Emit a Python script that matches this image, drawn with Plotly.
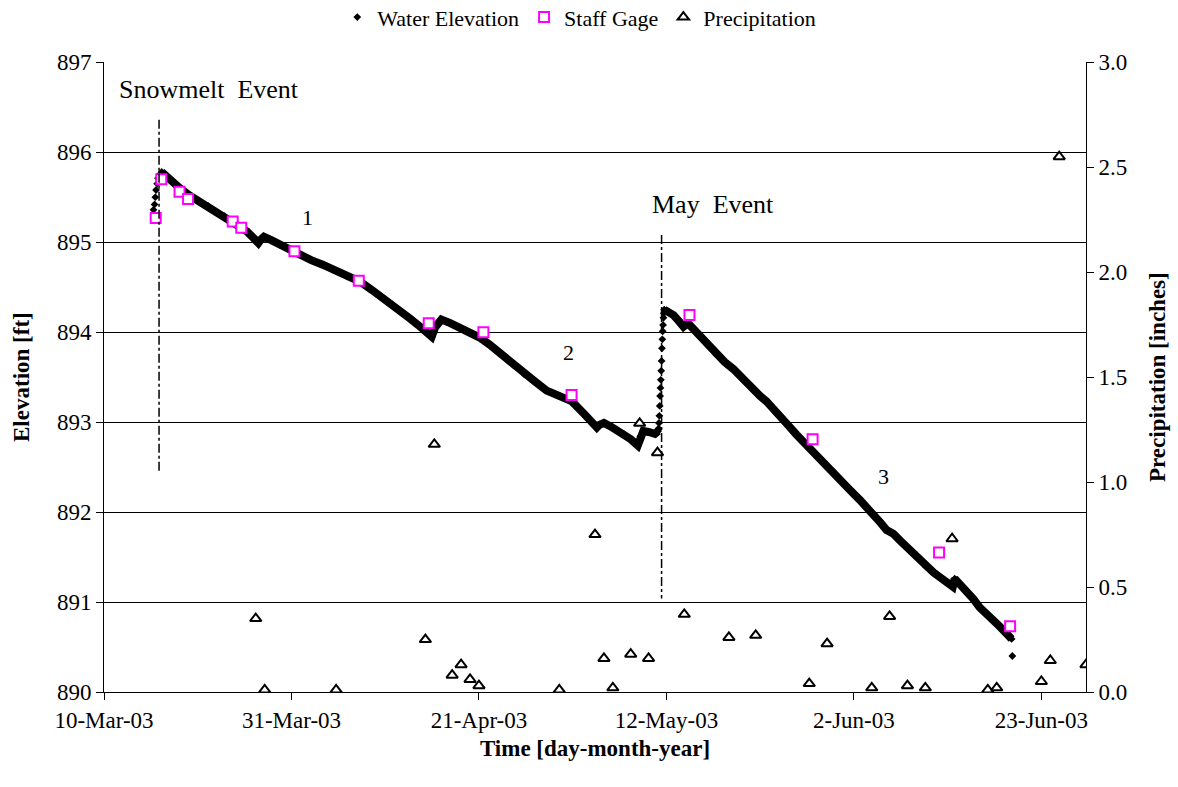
import plotly.graph_objects as go

# ---- Water elevation (ft) ----
# rising limb of the snowmelt event
snow_rise_time = ["2003-03-15 13:00", "2003-03-15 16:00", "2003-03-15 18:00", "2003-03-15 20:00",
                  "2003-03-15 23:00", "2003-03-16 01:00", "2003-03-16 05:00"]
snow_rise_ft = [895.36, 895.42, 895.50, 895.58, 895.65, 895.71, 895.75]

# recession after the snowmelt event
rec1_time = ["2003-03-16 11:00", "2003-03-17 12:00", "2003-03-18 12:00", "2003-03-19 14:00",
             "2003-03-20 18:00", "2003-03-21 17:00", "2003-03-22 14:00", "2003-03-23 12:00",
             "2003-03-24 12:00", "2003-03-25 05:00", "2003-03-26 00:00", "2003-03-26 17:00",
             "2003-03-27 07:00", "2003-03-27 14:00", "2003-03-27 22:00", "2003-03-28 19:00",
             "2003-03-29 17:00", "2003-03-30 19:00", "2003-03-31 23:00", "2003-04-02 05:00",
             "2003-04-03 12:00", "2003-04-04 17:00", "2003-04-06 05:00", "2003-04-07 17:00",
             "2003-04-09 00:00", "2003-04-10 07:00", "2003-04-11 05:00", "2003-04-12 04:00",
             "2003-04-13 07:00", "2003-04-14 10:00", "2003-04-15 02:00", "2003-04-15 17:00",
             "2003-04-16 02:00", "2003-04-16 12:00", "2003-04-16 19:00", "2003-04-17 19:00",
             "2003-04-18 22:00", "2003-04-20 00:00", "2003-04-21 02:00", "2003-04-22 05:00",
             "2003-04-23 12:00", "2003-04-24 19:00", "2003-04-26 02:00", "2003-04-27 07:00",
             "2003-04-28 14:00", "2003-04-30 00:00", "2003-05-01 10:00", "2003-05-02 19:00",
             "2003-05-04 05:00", "2003-05-04 12:00", "2003-05-05 00:00", "2003-05-05 19:00",
             "2003-05-06 12:00", "2003-05-07 05:00", "2003-05-08 00:00", "2003-05-08 19:00",
             "2003-05-09 02:00", "2003-05-09 10:00", "2003-05-10 00:00", "2003-05-10 17:00",
             "2003-05-11 02:00"]
rec1_ft = [895.78, 895.68, 895.60, 895.52,
           895.45, 895.40, 895.34, 895.29,
           895.23, 895.17, 895.12, 895.05,
           894.99, 895.03, 895.06, 895.02,
           894.97, 894.92, 894.86, 894.80,
           894.75, 894.69, 894.62, 894.56,
           894.47, 894.38, 894.30, 894.23,
           894.15, 894.06, 894.00, 893.95,
           894.05, 894.12, 894.14, 894.10,
           894.05, 893.99, 893.94, 893.86,
           893.75, 893.64, 893.53, 893.45,
           893.35, 893.29, 893.23, 893.09,
           892.94, 892.97, 892.99, 892.95,
           892.91, 892.87, 892.81, 892.74,
           892.84, 892.90, 892.89, 892.87,
           892.90]

# rising limb of the May event
may_rise_time = ["2003-05-11 03:00", "2003-05-11 04:00", "2003-05-11 05:00", "2003-05-11 06:00",
                 "2003-05-11 07:00", "2003-05-11 08:00", "2003-05-11 09:00", "2003-05-11 10:00",
                 "2003-05-11 11:00", "2003-05-11 12:00", "2003-05-11 13:00", "2003-05-11 14:00",
                 "2003-05-11 15:00", "2003-05-11 16:00", "2003-05-11 17:00"]
may_rise_ft = [892.93, 892.99, 893.07, 893.18,
               893.29, 893.38, 893.47, 893.57,
               893.68, 893.82, 893.92, 894.01,
               894.08, 894.16, 894.21]

# recession after the May event
rec2_time = ["2003-05-11 18:00", "2003-05-12 07:00", "2003-05-12 19:00", "2003-05-13 10:00",
             "2003-05-13 22:00", "2003-05-14 10:00", "2003-05-15 00:00", "2003-05-15 17:00",
             "2003-05-16 14:00", "2003-05-17 14:00", "2003-05-18 12:00", "2003-05-19 12:00",
             "2003-05-20 14:00", "2003-05-21 17:00", "2003-05-22 12:00", "2003-05-23 05:00",
             "2003-05-24 07:00", "2003-05-25 12:00", "2003-05-26 14:00", "2003-05-27 17:00",
             "2003-05-28 19:00", "2003-05-29 22:00", "2003-05-30 17:00", "2003-05-31 10:00",
             "2003-06-01 12:00", "2003-06-02 17:00", "2003-06-03 12:00", "2003-06-04 05:00",
             "2003-06-05 00:00", "2003-06-05 16:00", "2003-06-06 10:00", "2003-06-07 05:00",
             "2003-06-07 22:00", "2003-06-09 00:00", "2003-06-10 02:00", "2003-06-10 22:00",
             "2003-06-11 14:00", "2003-06-12 10:00", "2003-06-13 02:00", "2003-06-13 07:00",
             "2003-06-13 22:00", "2003-06-14 14:00", "2003-06-15 10:00", "2003-06-16 02:00",
             "2003-06-16 22:00", "2003-06-17 14:00", "2003-06-18 05:00", "2003-06-18 17:00",
             "2003-06-19 05:00", "2003-06-19 16:00"]
rec2_ft = [894.25, 894.22, 894.19, 894.12,
           894.06, 894.10, 894.04, 893.97,
           893.86, 893.75, 893.67, 893.59,
           893.47, 893.36, 893.29, 893.23,
           893.10, 892.98, 892.86, 892.75,
           892.64, 892.53, 892.45, 892.37,
           892.25, 892.13, 892.05, 891.98,
           891.88, 891.80, 891.76, 891.68,
           891.61, 891.50, 891.39, 891.33,
           891.28, 891.22, 891.17, 891.26,
           891.20, 891.13, 891.03, 890.94,
           890.87, 890.80, 890.74, 890.69,
           890.64, 890.59]

# final logger reading
last_time = ["2003-06-19 18:00"]
last_ft = [890.40]

# ---- Staff gage readings (ft) ----
gage_time = ["2003-03-15 19:00", "2003-03-16 10:00", "2003-03-18 11:00", "2003-03-19 10:00",
             "2003-03-24 10:00", "2003-03-25 09:00", "2003-03-31 08:00", "2003-04-07 13:00",
             "2003-04-15 09:00", "2003-04-21 12:00", "2003-05-01 09:00", "2003-05-14 14:00",
             "2003-05-28 09:00", "2003-06-11 13:00", "2003-06-19 12:00"]
gage_ft = [895.27, 895.70, 895.56, 895.48,
           895.23, 895.16, 894.90, 894.57,
           894.10, 894.00, 893.30, 894.19,
           892.81, 891.55, 890.73]

# ---- Daily precipitation (inches) ----
precip_date = ["2003-03-27", "2003-03-28", "2003-04-05", "2003-04-15", "2003-04-16",
               "2003-04-18", "2003-04-19", "2003-04-20", "2003-04-21", "2003-04-30",
               "2003-05-04", "2003-05-05", "2003-05-06", "2003-05-08", "2003-05-09",
               "2003-05-10", "2003-05-11", "2003-05-14", "2003-05-19", "2003-05-22",
               "2003-05-28", "2003-05-30", "2003-06-04", "2003-06-06", "2003-06-08",
               "2003-06-10", "2003-06-13", "2003-06-17", "2003-06-18", "2003-06-23",
               "2003-06-24", "2003-06-25", "2003-06-28"]
precip_in = [0.35, 0.01, 0.01, 0.25, 1.18,
             0.08, 0.13, 0.06, 0.03, 0.01,
             0.75, 0.16, 0.02, 0.18, 1.28,
             0.16, 1.14, 0.37, 0.26, 0.27,
             0.04, 0.23, 0.02, 0.36, 0.03,
             0.02, 0.73, 0.01, 0.02, 0.05,
             0.15, 2.55, 0.13]

# ---- Event markers and labels ----
event_time = ["2003-03-16 04:00", "2003-05-11 11:00"]
event_top = [896.36, 895.08]
event_bottom = [892.45, 891.04]

label_text = ["Snowmelt  Event", "May  Event", "1", "2", "3"]
label_time = ["2003-03-11 12:00", "2003-05-10 03:00", "2003-04-01 20:00", "2003-05-01 02:00", "2003-06-05 08:00"]
label_ft = [896.70, 895.42, 895.27, 893.77, 892.39]
label_anchor = ["left", "left", "center", "center", "center"]
label_size = [26, 26, 22, 22, 22]

FONT = "Liberation Serif, Times New Roman, serif"
TICK = dict(family=FONT, size=23, color="black")
TITLE = dict(family=FONT, size=23, color="black")

fig = go.Figure()

# thick band drawn by the dense logger record on the recession limbs
for t, v in ((rec1_time, rec1_ft), (rec2_time, rec2_ft)):
    fig.add_trace(go.Scatter(x=t, y=v, mode="lines", showlegend=False, hoverinfo="skip",
                             line=dict(color="black", width=8)))

elev_time = snow_rise_time + rec1_time + may_rise_time + rec2_time + last_time
elev_ft = snow_rise_ft + rec1_ft + may_rise_ft + rec2_ft + last_ft
fig.add_trace(go.Scatter(x=elev_time, y=elev_ft, mode="markers", name="Water Elevation",
                         marker=dict(symbol="diamond", size=6, color="black")))

fig.add_trace(go.Scatter(x=gage_time, y=gage_ft, mode="markers", name="Staff Gage",
                         marker=dict(symbol="square", size=10, color="white",
                                     line=dict(color="#FF00FF", width=2))))

fig.add_trace(go.Scatter(x=precip_date, y=precip_in, mode="markers", name="Precipitation",
                         yaxis="y2",
                         marker=dict(symbol="triangle-up", size=10, color="white",
                                     line=dict(color="black", width=2))))

for t, top, bot in zip(event_time, event_top, event_bottom):
    fig.add_shape(type="line", xref="x", yref="y", x0=t, x1=t, y0=top, y1=bot,
                  line=dict(color="black", width=1.5, dash="dashdot"))

for txt, t, v, anc, sz in zip(label_text, label_time, label_ft, label_anchor, label_size):
    fig.add_annotation(x=t, y=v, xref="x", yref="y", text=txt, showarrow=False,
                       xanchor=anc, yanchor="middle", font=dict(family=FONT, size=sz, color="black"))

fig.update_layout(
    width=1178, height=787,
    margin=dict(l=104, r=92, t=60, b=95),
    paper_bgcolor="white", plot_bgcolor="white",
    font=dict(family=FONT, size=23, color="black"),
    showlegend=True,
    legend=dict(orientation="h", x=0.484, xanchor="center", y=0.978, yref="container",
                yanchor="middle", font=dict(family=FONT, size=22, color="black"),
                bgcolor="rgba(0,0,0,0)", itemwidth=30),
    xaxis=dict(type="date", range=["2003-03-10", "2003-06-28"],
               tick0="2003-03-10", dtick=21 * 86400000, tickformat="%-d-%b-%y",
               showgrid=False, zeroline=False, showline=True, linecolor="black", linewidth=1,
               ticks="outside", ticklen=7, tickcolor="black", tickfont=TICK,
               title=dict(text="<b>Time [day-month-year]</b>", font=TITLE, standoff=8)),
    yaxis=dict(range=[890, 897], dtick=1, tickformat="d",
               showgrid=True, gridcolor="black", gridwidth=1, zeroline=False,
               showline=True, linecolor="black", linewidth=1,
               ticks="outside", ticklen=7, tickcolor="black", tickfont=TICK,
               title=dict(text="<b>Elevation [ft]</b>", font=TITLE, standoff=20)),
    yaxis2=dict(range=[0, 3], dtick=0.5, tickformat=".1f", overlaying="y", side="right",
                showgrid=False, zeroline=False, showline=True, linecolor="black", linewidth=1,
                ticks="outside", ticklen=7, tickcolor="black", tickfont=TICK,
                title=dict(text="<b>Precipitation [inches]</b>", font=TITLE, standoff=22)),
)

fig.write_html("out.html")
